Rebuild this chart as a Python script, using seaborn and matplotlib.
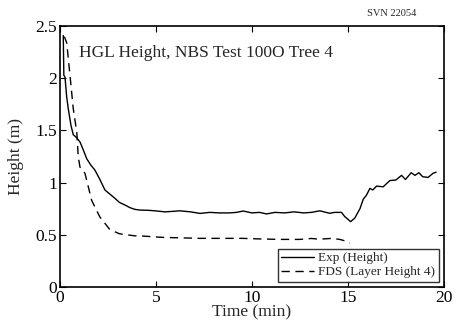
import pandas as pd
import matplotlib.pyplot as plt
import seaborn as sns

# data
exp_time = [0.17, 0.2, 0.26, 0.35, 0.43, 0.57, 0.69, 0.87, 1.04, 1.2, 1.39, 1.6, 1.82, 2.08, 2.34, 2.6,
            2.86, 3.1, 3.39, 3.65, 3.9, 4.17, 4.6, 4.95, 5.47, 5.9, 6.25, 6.8, 7.3, 7.8, 8.3, 8.85,
            9.2, 9.55, 10.0, 10.4, 10.76, 11.2, 11.7, 12.2, 12.7, 13.1, 13.54, 14.06, 14.3, 14.67,
            14.84, 15.0, 15.14, 15.36, 15.63, 15.8, 15.97, 16.15, 16.3, 16.5, 16.84, 17.19, 17.5,
            17.8, 18.0, 18.3, 18.5, 18.7, 18.9, 19.18, 19.44, 19.6]
exp_height = [2.41, 2.03, 2.01, 1.82, 1.71, 1.55, 1.46, 1.43, 1.39, 1.32, 1.23, 1.17, 1.12, 1.03, 0.93, 0.89,
              0.85, 0.81, 0.785, 0.76, 0.744, 0.737, 0.735, 0.73, 0.72, 0.725, 0.73, 0.72, 0.705, 0.715, 0.71, 0.71,
              0.715, 0.728, 0.71, 0.715, 0.70, 0.715, 0.71, 0.72, 0.71, 0.715, 0.73, 0.706, 0.715, 0.715,
              0.674, 0.65, 0.626, 0.66, 0.75, 0.84, 0.88, 0.945, 0.93, 0.967, 0.96, 1.02, 1.025,
              1.07, 1.03, 1.095, 1.07, 1.095, 1.057, 1.05, 1.09, 1.10]

fds_time = [0.17, 0.25, 0.35, 0.52, 0.69, 0.82, 0.87, 0.95, 1.04, 1.3, 1.65, 2.08, 2.6, 3.1, 3.9, 4.17,
            4.95, 5.4, 6.5, 7.3, 8.5, 9.5, 10.5, 11.5, 12.5, 13.1, 13.5, 14.2, 14.6, 15.0, 15.1]
fds_height = [2.4, 2.39, 2.34, 2.03, 1.71, 1.55, 1.50, 1.25, 1.15, 1.09, 0.83, 0.67, 0.55, 0.51, 0.49, 0.49,
              0.48, 0.475, 0.47, 0.466, 0.466, 0.466, 0.46, 0.456, 0.456, 0.465, 0.458, 0.466, 0.455, 0.434, 0.42]

exp_df = pd.DataFrame({'Time': exp_time, 'Height': exp_height})
fds_df = pd.DataFrame({'Time': fds_time, 'Height': fds_height})

sns.set_style('ticks')
plt.rcParams['font.family'] = ['Liberation Serif', 'DejaVu Serif']

fig = plt.figure(figsize=(4.58, 3.31), dpi=100)
ax = fig.add_axes([0.131, 0.133, 0.838, 0.788])

sns.lineplot(data=exp_df, x='Time', y='Height', ax=ax, color='black', linewidth=1.0,
             label='Exp (Height)')
sns.lineplot(data=fds_df, x='Time', y='Height', ax=ax, color='black', linewidth=1.0,
             linestyle=(0, (6, 4)), label='FDS (Layer Height 4)')

ax.set_xlim(0, 20)
ax.set_ylim(0, 2.5)
ax.set_xticks([0, 5, 10, 15, 20])
ax.set_yticks([0, 0.5, 1, 1.5, 2, 2.5])
ax.set_xticklabels(['0', '5', '10', '15', '20'])
ax.set_yticklabels(['0', '0.5', '1', '1.5', '2', '2.5'])
ax.tick_params(direction='in', top=True, right=True, length=4, width=0.8, labelsize=12.5, pad=2,
               color='black', labelcolor='black')
for s in ax.spines.values():
    s.set_linewidth(1.2)
    s.set_color('black')

ax.set_xlabel('Time (min)', fontsize=12.5, labelpad=-1)
ax.set_ylabel('Height (m)', fontsize=12.5, labelpad=8)

ax.text(1.0, 2.2, 'HGL Height, NBS Test 100O Tree 4', fontsize=12.5)
fig.text(0.856, 0.952, 'SVN 22054', fontsize=7.5, ha='center')

leg = ax.legend(loc='lower right', fontsize=9.5, frameon=True, fancybox=False, edgecolor='black',
                borderpad=0.25, labelspacing=0.15, handlelength=2.5, handletextpad=0.3,
                borderaxespad=0.4, bbox_to_anchor=(1.0, 0.0))
leg.get_frame().set_linewidth(1.0)

plt.savefig('out.png', dpi=100)
